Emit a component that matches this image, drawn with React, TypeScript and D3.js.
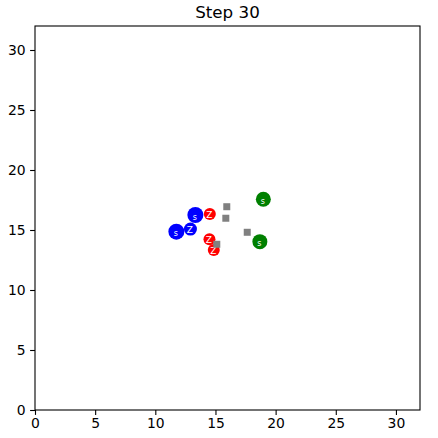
import * as d3 from "d3";
import { useEffect, useRef } from "react";

const ticks = [0, 5, 10, 15, 20, 25, 30];

// agents: blue "s"/"Z", red "Z", green "s"
const blueX = [13.33, 11.75, 12.92];
const blueY = [16.25, 14.86, 15.08];
const blueLabel = ["s", "s", "Z"];
const blueSize = [8, 8, 6.5];

const redX = [14.53, 14.5, 14.86];
const redY = [16.33, 14.22, 13.33];
const redLabel = ["Z", "Z", "Z"];

const greenX = [18.98, 18.69];
const greenY = [17.56, 14.03];
const greenLabel = ["s", "s"];

// grey squares
const boxX = [15.94, 15.86, 15.11, 17.64];
const boxY = [16.94, 15.98, 13.81, 14.81];

export default function App() {
  const svgRef = useRef<SVGSVGElement>(null);

  const W = 438;
  const H = 438;
  const margin = { top: 26, right: 18, bottom: 28, left: 35 };
  const width = W - margin.left - margin.right;
  const height = H - margin.top - margin.bottom;

  useEffect(() => {
    const svg = d3.select(svgRef.current);
    svg.selectAll("*").remove();

    const x = d3.scaleLinear().domain([0, 32]).range([0, width]);
    const y = d3.scaleLinear().domain([0, 32]).range([height, 0]);

    const g = svg.append("g").attr("transform", `translate(${margin.left},${margin.top})`);

    const circles = [
      ...redX.map((v, i) => ({ x: v, y: redY[i], label: redLabel[i], r: 6, color: "#ff0000" })),
      ...blueX.map((v, i) => ({ x: v, y: blueY[i], label: blueLabel[i], r: blueSize[i], color: "#0000ff" })),
      ...greenX.map((v, i) => ({ x: v, y: greenY[i], label: greenLabel[i], r: 7.5, color: "#008000" })),
    ];

    circles.forEach((c) => {
      g.append("circle")
        .attr("cx", x(c.x))
        .attr("cy", y(c.y))
        .attr("r", c.r)
        .attr("fill", c.color);
      g.append("text")
        .attr("x", x(c.x) - 0.5)
        .attr("y", y(c.y) + (c.label === "s" ? 4.5 : 3.5))
        .attr("text-anchor", "middle")
        .attr("font-family", "DejaVu Sans")
        .attr("font-size", c.label === "s" ? 8 : 9)
        .attr("fill", "white")
        .text(c.label);
    });

    g.selectAll(".box")
      .data(boxX.map((v, i) => ({ x: v, y: boxY[i] })))
      .enter()
      .append("rect")
      .attr("x", (d) => x(d.x) - 3.5)
      .attr("y", (d) => y(d.y) - 3.5)
      .attr("width", 7)
      .attr("height", 7)
      .attr("fill", "#808080");

    const xAxis = g.append("g")
      .attr("transform", `translate(0,${height})`)
      .call(d3.axisBottom(x).tickValues(ticks).tickSize(4.9).tickPadding(3.5));
    const yAxis = g.append("g")
      .call(d3.axisLeft(y).tickValues(ticks).tickSize(4.9).tickPadding(4.5));

    [xAxis, yAxis].forEach((a) => {
      a.select(".domain").remove();
      a.selectAll("text")
        .attr("font-family", "DejaVu Sans")
        .attr("font-size", 13.9)
        .attr("fill", "black");
      a.selectAll("line").attr("stroke", "black").attr("stroke-width", 1.1);
    });

    g.append("rect")
      .attr("width", width)
      .attr("height", height)
      .attr("fill", "none")
      .attr("stroke", "black")
      .attr("stroke-width", 1.1);

    svg.append("text")
      .attr("x", margin.left + width / 2)
      .attr("y", margin.top - 8)
      .attr("text-anchor", "middle")
      .attr("font-family", "DejaVu Sans")
      .attr("font-size", 16.7)
      .attr("fill", "black")
      .text("Step 30");
  }, []);

  return (
    <svg
      ref={svgRef}
      width={W}
      height={H}
      style={{ position: "absolute", left: 0, top: 0, background: "white" }}
    ></svg>
  );
}
